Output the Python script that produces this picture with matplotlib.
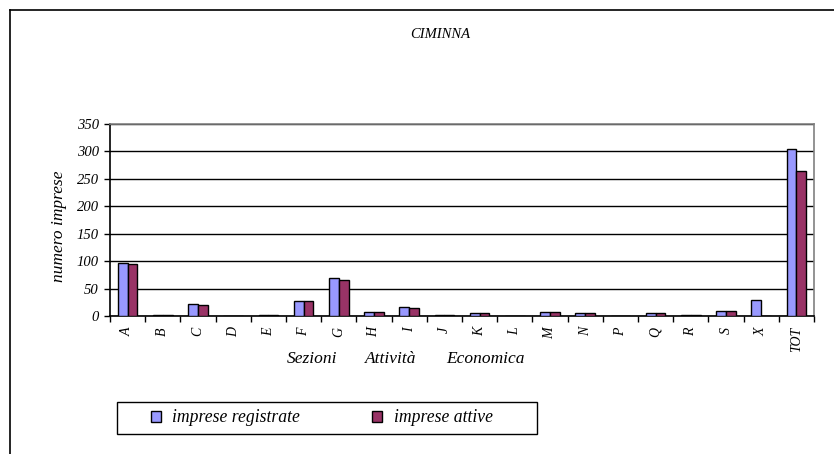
import matplotlib.pyplot as plt
import numpy as np
from matplotlib.patches import Patch, Rectangle
from matplotlib.lines import Line2D

plt.rcParams['font.family'] = 'Liberation Serif'
plt.rcParams['font.style'] = 'italic'

# data
sezioni = ['A', 'B', 'C', 'D', 'E', 'F', 'G', 'H', 'I', 'J', 'K', 'L',
           'M', 'N', 'P', 'Q', 'R', 'S', 'X', 'TOT']
registrate = [97, 1, 22, 0, 2, 28, 70, 8, 16, 1, 6, 0, 8, 6, 0, 6, 2, 10, 30, 305]
attive = [95, 1, 20, 0, 2, 27, 66, 7, 15, 1, 6, 0, 7, 6, 0, 6, 2, 9, 0, 265]
serie = ['imprese registrate', 'imprese attive']

col_reg = '#9999FF'
col_att = '#993366'

W, H = 834, 454
fig = plt.figure(figsize=(W / 100, H / 100), dpi=100)

# outer chart frame (only top/left edges visible in the crop)
fig.add_artist(Line2D([10 / W, 1], [1 - 10 / H, 1 - 10 / H], color='black', lw=1.2))
fig.add_artist(Line2D([10 / W, 10 / W], [0, 1 - 10 / H], color='black', lw=1.2))

ax = fig.add_axes([110 / W, 1 - 316 / H, (814 - 110) / W, (316 - 124) / H])

x = np.arange(len(sezioni))
bw = 0.28
ax.bar(x - bw / 2, registrate, bw, color=col_reg, edgecolor='black', lw=1, zorder=3)
ax.bar(x + bw / 2, attive, bw, color=col_att, edgecolor='black', lw=1, zorder=3)

ax.set_xlim(-0.5, len(sezioni) - 0.5)
ax.set_ylim(0, 350)
ax.set_yticks(range(0, 351, 50))
ax.yaxis.grid(True, color='black', lw=1)
ax.set_axisbelow(True)

ax.set_xticks(x)
ax.set_xticklabels(sezioni, rotation=90, fontsize=10)
ax.set_xticks(np.arange(-0.5, len(sezioni), 1), minor=True)
ax.tick_params(axis='x', which='major', length=0, pad=8)
ax.tick_params(axis='x', which='minor', length=4, direction='out', width=1)
ax.tick_params(axis='y', length=4, width=1, labelsize=10.5, pad=4)

for s in ['top', 'right']:
    ax.spines[s].set_color('#808080')
    ax.spines[s].set_linewidth(1.2)
for s in ['left', 'bottom']:
    ax.spines[s].set_color('black')
    ax.spines[s].set_linewidth(1.2)

fig.text(59 / W, 1 - 226 / H, 'numero imprese', rotation=90,
         ha='center', va='center', fontsize=12.5)

fig.text(440 / W, 1 - 35 / H, 'CIMINNA', ha='center', va='center', fontsize=10.5)
for word, cx in [('Sezioni', 312), ('Attività', 391), ('Economica', 485)]:
    fig.text(cx / W, 1 - 359 / H, word, ha='center', va='center', fontsize=12.5)

# legend frame + entries
fig.add_artist(Rectangle((117 / W, 1 - 434 / H), 420 / W, 32 / H,
                         transform=fig.transFigure, fill=False,
                         edgecolor='black', lw=1))
handles = [Patch(facecolor=col_reg, edgecolor='black'),
           Patch(facecolor=col_att, edgecolor='black')]
leg = fig.legend(handles, serie, loc='center left',
                 bbox_to_anchor=(151 / W, 1 - 418 / H), ncol=2, fontsize=12.7,
                 frameon=False, handlelength=0.55, handleheight=0.55,
                 handletextpad=0.65, columnspacing=4.1,
                 borderaxespad=0, borderpad=0)

fig.savefig('out.png', dpi=100)
